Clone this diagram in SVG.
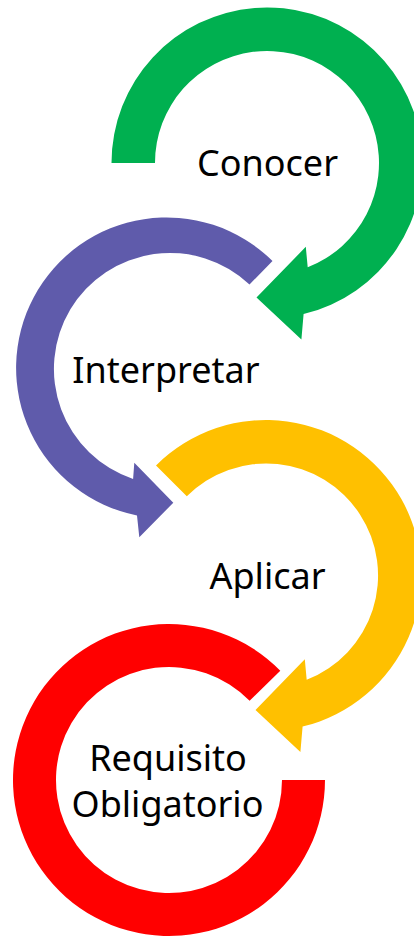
<svg xmlns="http://www.w3.org/2000/svg" width="414" height="938" viewBox="0 0 414 938">
  <style>
    .label { font-family: "Noto Sans", "Open Sans", sans-serif; font-size: 36px; fill: #000; text-anchor: middle; }
  </style>
  <rect width="414" height="938" fill="#fff"/>

  <!-- Step 1: green circular arrow -->
  <g id="conocer">
    <path fill="#00B050" d="M111.5,163 A155.5,155.5 0 1 1 303.6,314.1 L301.4,339.6 L256.5,297.6 L305.8,246.8 L307.7,267.3 A112,112 0 1 0 155,163 Z"/>
    <text class="label" x="267.5" y="175.5">Conocer</text>
  </g>

  <!-- Step 2: purple circular arrow (counter-clockwise) -->
  <g id="interpretar">
    <path fill="#5F5BAB" d="M272.5,261 A150.5,150.5 0 1 0 137,515.5 L139.3,537.3 L173.3,502.7 L134.3,462.7 L133.1,478.9 A116,116 0 1 1 249.5,284.5 Z"/>
    <text class="label" x="166" y="382.5">Interpretar</text>
  </g>

  <!-- Step 3: yellow circular arrow -->
  <g id="aplicar">
    <path fill="#FFC000" d="M156,465.5 A155.5,155.5 0 1 1 302.6,726.6 L300.4,752.1 L255.5,710.1 L304.8,659.3 L306.7,679.8 A112,112 0 1 0 186.8,496.3 Z"/>
    <text class="label" x="267.5" y="588.5">Aplicar</text>
  </g>

  <!-- Step 4: red open ring -->
  <g id="requisito">
    <path fill="#FF0000" d="M325,780 A156,156 0 1 1 280.3,670.7 L249.6,700.8 A113,113 0 1 0 282,780 Z"/>
    <text class="label" x="168" y="771">Requisito</text>
    <text class="label" x="167.5" y="817">Obligatorio</text>
  </g>

  <g id="connectors"/>
</svg>
